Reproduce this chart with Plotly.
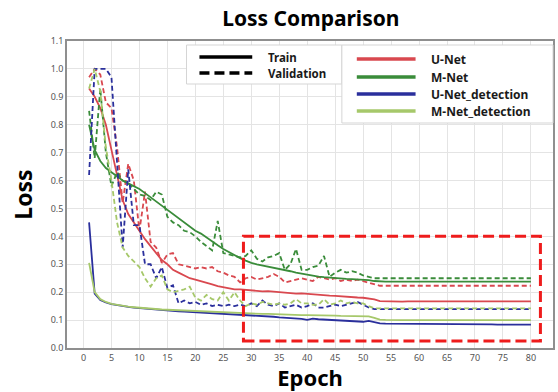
import plotly.graph_objects as go

epochs = list(range(1, 81))

unet_train = [0.93, 0.90, 0.86, 0.80, 0.71, 0.62, 0.53, 0.48, 0.45, 0.42,
              0.39, 0.365, 0.34, 0.315, 0.30, 0.28, 0.27, 0.26, 0.25, 0.245,
              0.24, 0.235, 0.228, 0.222, 0.218, 0.213, 0.21, 0.21, 0.208, 0.205,
              0.205, 0.203, 0.204, 0.202, 0.20, 0.199, 0.197, 0.195, 0.196, 0.194,
              0.192, 0.19, 0.19, 0.188, 0.187, 0.185, 0.184, 0.182, 0.181, 0.18,
              0.178, 0.174, 0.168, 0.167, 0.167, 0.167, 0.166, 0.167, 0.167, 0.167,
              0.167, 0.166, 0.167, 0.167, 0.167, 0.166, 0.167, 0.167, 0.167, 0.167,
              0.166, 0.167, 0.167, 0.167, 0.167, 0.166, 0.167, 0.167, 0.167, 0.167]

unet_val = [0.97, 1.00, 0.98, 0.88, 0.86, 0.72, 0.52, 0.66, 0.60, 0.42,
            0.56, 0.38, 0.36, 0.305, 0.335, 0.34, 0.30, 0.295, 0.29, 0.285,
            0.29, 0.285, 0.29, 0.275, 0.27, 0.26, 0.255, 0.235, 0.25, 0.255,
            0.245, 0.25, 0.255, 0.265, 0.255, 0.235, 0.24, 0.245, 0.25, 0.245,
            0.24, 0.255, 0.25, 0.245, 0.25, 0.24, 0.245, 0.24, 0.245, 0.24,
            0.235, 0.228, 0.223, 0.223, 0.223, 0.223, 0.223, 0.223, 0.223, 0.223,
            0.223, 0.223, 0.223, 0.223, 0.223, 0.223, 0.223, 0.223, 0.223, 0.223,
            0.223, 0.223, 0.223, 0.223, 0.223, 0.223, 0.223, 0.223, 0.223, 0.223]

mnet_train = [0.80, 0.71, 0.67, 0.645, 0.63, 0.615, 0.60, 0.59, 0.58, 0.57,
              0.555, 0.54, 0.525, 0.51, 0.495, 0.48, 0.465, 0.45, 0.435, 0.42,
              0.41, 0.395, 0.38, 0.368, 0.355, 0.343, 0.332, 0.322, 0.313, 0.305,
              0.30, 0.296, 0.292, 0.288, 0.285, 0.28, 0.275, 0.27, 0.266, 0.262,
              0.259, 0.256, 0.254, 0.252, 0.25, 0.249, 0.248, 0.247, 0.246, 0.245,
              0.243, 0.24, 0.238, 0.238, 0.238, 0.238, 0.238, 0.238, 0.238, 0.238,
              0.238, 0.238, 0.238, 0.238, 0.238, 0.238, 0.238, 0.238, 0.238, 0.238,
              0.238, 0.238, 0.238, 0.238, 0.238, 0.238, 0.238, 0.238, 0.238, 0.238]

mnet_val = [0.85, 0.68, 0.93, 0.70, 0.58, 0.63, 0.60, 0.59, 0.57, 0.55,
            0.545, 0.53, 0.56, 0.55, 0.47, 0.45, 0.44, 0.42, 0.415, 0.40,
            0.38, 0.365, 0.35, 0.455, 0.34, 0.335, 0.33, 0.325, 0.33, 0.35,
            0.32, 0.31, 0.325, 0.33, 0.34, 0.28, 0.30, 0.355, 0.28, 0.28,
            0.29, 0.295, 0.33, 0.255, 0.27, 0.28, 0.27, 0.275, 0.27, 0.26,
            0.255, 0.25, 0.25, 0.25, 0.25, 0.25, 0.25, 0.25, 0.25, 0.25,
            0.25, 0.25, 0.25, 0.25, 0.25, 0.25, 0.25, 0.25, 0.25, 0.25,
            0.25, 0.25, 0.25, 0.25, 0.25, 0.25, 0.25, 0.25, 0.25, 0.25]

unetdet_train = [0.45, 0.195, 0.172, 0.163, 0.157, 0.153, 0.15, 0.147, 0.145, 0.143,
                 0.141, 0.139, 0.137, 0.136, 0.134, 0.132, 0.131, 0.13, 0.129, 0.128,
                 0.127, 0.126, 0.125, 0.124, 0.122, 0.121, 0.12, 0.119, 0.118, 0.116,
                 0.115, 0.114, 0.113, 0.112, 0.11, 0.109, 0.108, 0.106, 0.104, 0.101,
                 0.105, 0.103, 0.102, 0.101, 0.10, 0.099, 0.097, 0.096, 0.095, 0.094,
                 0.097, 0.092, 0.088, 0.087, 0.087, 0.087, 0.086, 0.086, 0.086, 0.086,
                 0.086, 0.086, 0.086, 0.086, 0.085, 0.085, 0.085, 0.085, 0.085, 0.085,
                 0.085, 0.085, 0.085, 0.084, 0.084, 0.084, 0.084, 0.084, 0.084, 0.084]

unetdet_val = [0.62, 1.00, 1.00, 1.00, 0.97, 0.65, 0.36, 0.64, 0.44, 0.44,
               0.30, 0.30, 0.25, 0.29, 0.215, 0.225, 0.16, 0.17, 0.16, 0.165,
               0.155, 0.16, 0.15, 0.155, 0.15, 0.155, 0.15, 0.155, 0.15, 0.16,
               0.15, 0.17, 0.155, 0.15, 0.16, 0.145, 0.15, 0.155, 0.145, 0.15,
               0.16, 0.145, 0.145, 0.15, 0.155, 0.15, 0.155, 0.16, 0.165, 0.155,
               0.145, 0.139, 0.139, 0.139, 0.139, 0.139, 0.139, 0.139, 0.139, 0.139,
               0.139, 0.139, 0.139, 0.139, 0.139, 0.139, 0.139, 0.139, 0.139, 0.139,
               0.139, 0.139, 0.139, 0.139, 0.139, 0.139, 0.139, 0.139, 0.139, 0.139]

mnetdet_train = [0.305, 0.20, 0.175, 0.165, 0.158, 0.154, 0.15, 0.148, 0.146, 0.144,
                 0.142, 0.14, 0.139, 0.138, 0.137, 0.136, 0.135, 0.134, 0.133, 0.132,
                 0.131, 0.13, 0.129, 0.128, 0.128, 0.127, 0.126, 0.125, 0.125, 0.124,
                 0.123, 0.122, 0.122, 0.121, 0.12, 0.12, 0.119, 0.119, 0.118, 0.118,
                 0.118, 0.117, 0.117, 0.116, 0.116, 0.115, 0.115, 0.115, 0.114, 0.114,
                 0.113, 0.108, 0.102, 0.101, 0.10, 0.10, 0.10, 0.10, 0.10, 0.10,
                 0.10, 0.10, 0.10, 0.10, 0.10, 0.10, 0.10, 0.10, 0.10, 0.10,
                 0.10, 0.10, 0.10, 0.10, 0.10, 0.10, 0.10, 0.10, 0.10, 0.10]

mnetdet_val = [0.93, 1.00, 0.92, 0.72, 0.60, 0.45, 0.36, 0.33, 0.31, 0.29,
               0.25, 0.22, 0.25, 0.26, 0.21, 0.20, 0.205, 0.21, 0.22, 0.18,
               0.17, 0.19, 0.175, 0.17, 0.20, 0.17, 0.20, 0.17, 0.15, 0.16,
               0.155, 0.165, 0.16, 0.155, 0.16, 0.155, 0.16, 0.175, 0.16, 0.16,
               0.155, 0.155, 0.175, 0.155, 0.16, 0.17, 0.16, 0.165, 0.16, 0.16,
               0.15, 0.142, 0.142, 0.142, 0.142, 0.142, 0.142, 0.142, 0.142, 0.142,
               0.142, 0.142, 0.142, 0.142, 0.142, 0.142, 0.142, 0.142, 0.142, 0.142,
               0.142, 0.142, 0.142, 0.142, 0.142, 0.142, 0.142, 0.142, 0.142, 0.142]

model_names = ["U-Net", "M-Net", "U-Net_detection", "M-Net_detection"]
model_colors = ["#d9484f", "#3a8c3a", "#2a2f9c", "#a6c86a"]
train_series = [unet_train, mnet_train, unetdet_train, mnetdet_train]
val_series = [unet_val, mnet_val, unetdet_val, mnetdet_val]
style_names = ["Train", "Validation"]
style_dashes = ["solid", "10px,5px"]

zoom_box_x = [28.6, 81.7]
zoom_box_y = [0.025, 0.40]

W, H = 558, 392
ML, MR, MT, MB = 67, 3, 41, 44
PW, PH = W - ML - MR, H - MT - MB
FONT = "Noto Sans"


def px(xp):
    return (xp - ML) / PW


def py(yp):
    return (H - MB - yp) / PH


fig = go.Figure()

for name, color, tr, va in zip(model_names, model_colors, train_series, val_series):
    fig.add_trace(go.Scatter(x=epochs, y=va, mode="lines", name=name + " (Validation)",
                             showlegend=False,
                             line=dict(color=color, width=1.8, dash="5px,3px")))
    fig.add_trace(go.Scatter(x=epochs, y=tr, mode="lines", name=name + " (Train)",
                             showlegend=False,
                             line=dict(color=color, width=1.8)))

fig.add_shape(type="rect", xref="x", yref="y",
              x0=zoom_box_x[0], x1=zoom_box_x[1], y0=zoom_box_y[0], y1=zoom_box_y[1],
              line=dict(color="#ee1c1c", width=3, dash="11px,5px"))

# ---- legend boxes drawn as shapes + text ----
leg_font = dict(family=FONT, size=11.5, color="#1a1a1a", weight="bold")
legend_boxes = [(187, 45, 343, 84), (343, 45, 555, 123)]
for (x0, y0, x1, y1) in legend_boxes:
    fig.add_shape(type="rect", xref="paper", yref="paper",
                  x0=px(x0), x1=px(x1), y0=py(y1), y1=py(y0),
                  line=dict(color="#d5d5d5", width=1), fillcolor="white", layer="above")

style_rows = [57, 73]
for sname, dash, yr in zip(style_names, style_dashes, style_rows):
    fig.add_shape(type="line", xref="paper", yref="paper",
                  x0=px(200), x1=px(253), y0=py(yr), y1=py(yr),
                  line=dict(color="black", width=3.5, dash=dash), layer="above")
    fig.add_annotation(xref="paper", yref="paper", x=px(268), y=py(yr),
                       text=sname, showarrow=False, xanchor="left", yanchor="middle",
                       font=leg_font, borderpad=0)

model_rows = [59, 77, 94, 111]
for name, color, yr in zip(model_names, model_colors, model_rows):
    fig.add_shape(type="line", xref="paper", yref="paper",
                  x0=px(358), x1=px(417), y0=py(yr), y1=py(yr),
                  line=dict(color=color, width=3.5), layer="above")
    fig.add_annotation(xref="paper", yref="paper", x=px(431), y=py(yr),
                       text=name, showarrow=False, xanchor="left", yanchor="middle",
                       font=dict(family=FONT, size=12, color="#1a1a1a", weight="bold"),
                       borderpad=0)

fig.update_layout(
    width=W, height=H,
    margin=dict(l=ML, r=MR, t=MT, b=MB),
    paper_bgcolor="white", plot_bgcolor="white",
    showlegend=False,
    title=dict(text="Loss Comparison", x=0.557, xanchor="center", y=0.953, yanchor="middle",
               font=dict(family=FONT, size=21, color="black", weight="bold")),
    xaxis=dict(range=[-2.95, 83.95], tickvals=list(range(0, 81, 5)),
               showgrid=True, gridcolor="#e4e4e4", gridwidth=1,
               showline=True, mirror=True, linecolor="#8f8f8f", linewidth=1.5,
               zeroline=False, ticks="",
               tickfont=dict(family=FONT, size=9, color="#555"),
               title=dict(text="Epoch", standoff=5,
                          font=dict(family=FONT, size=22, color="black", weight="bold"))),
    yaxis=dict(range=[0, 1.1], tickvals=[i / 10 for i in range(0, 12)], tickformat=".1f",
               showgrid=True, gridcolor="#e4e4e4", gridwidth=1,
               showline=True, mirror=True, linecolor="#8f8f8f", linewidth=1.5,
               zeroline=False, ticks="",
               tickfont=dict(family=FONT, size=9, color="#555"),
               title=dict(text="Loss", standoff=12,
                          font=dict(family=FONT, size=23, color="black", weight="bold"))),
)

fig.write_html("out.html")
